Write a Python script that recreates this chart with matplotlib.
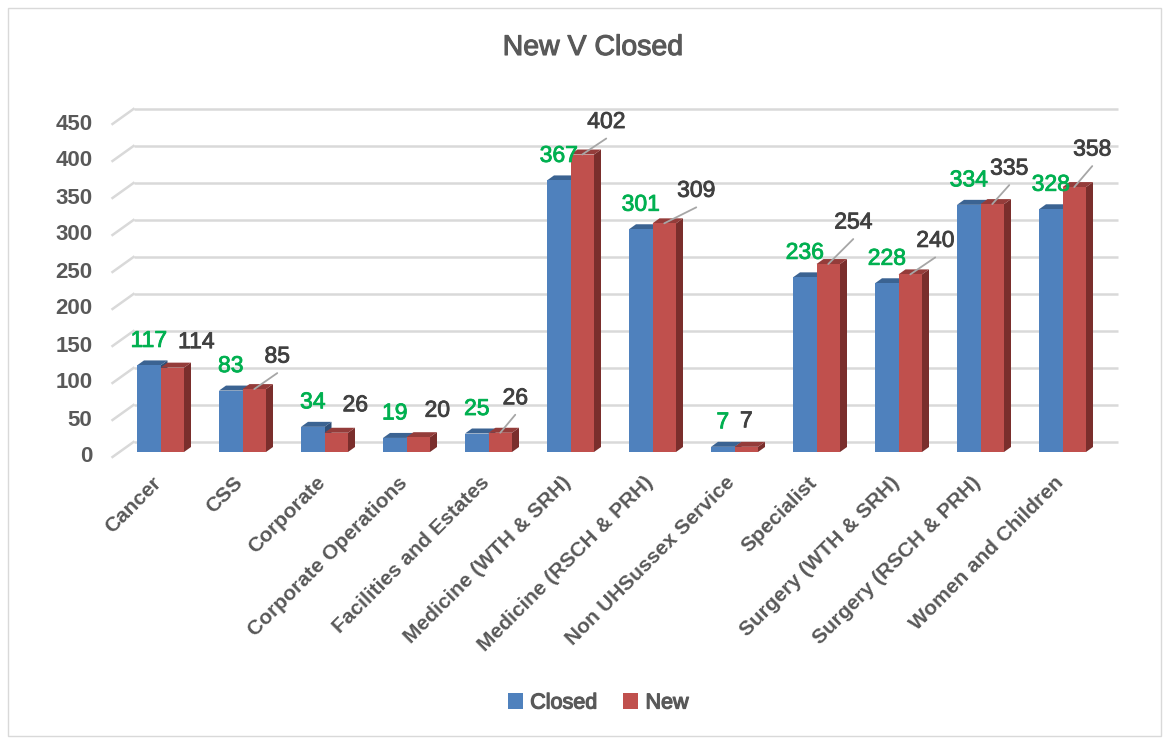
import matplotlib
matplotlib.use("Agg")
import matplotlib.pyplot as plt
import matplotlib.patheffects as pe
from matplotlib.patches import Polygon, Rectangle, Patch

#---------------
# DATA
#---------------
categories = ["Cancer", "CSS", "Corporate", "Corporate Operations",
              "Facilities and Estates", "Medicine (WTH & SRH)",
              "Medicine (RSCH & PRH)", "Non UHSussex Service", "Specialist",
              "Surgery (WTH & SRH)", "Surgery (RSCH & PRH)", "Women and Children"]
closed = [117, 83, 34, 19, 25, 367, 301, 7, 236, 228, 334, 328]
new = [114, 85, 26, 20, 26, 402, 309, 7, 254, 240, 335, 358]
yticks = [0, 50, 100, 150, 200, 250, 300, 350, 400, 450]

# where the "New" labels were dragged to (pixels right / up of the bar top)
new_lbl_dx = [24, 23, 19, 19, 15, 24, 32, 0, 25, 25, 17, 18]
new_lbl_dy = [26, 33, 28, 27, 35, 33, 33, 26, 42, 34, 36, 38]
new_leader = [False, True, False, False, True, True, True, False, True, True, True, True]

#---------------
# STYLE
#---------------
plt.rcParams['font.family'] = ['Liberation Sans', 'DejaVu Sans']
GREY_TXT = '#595959'
GRID = '#d9d9d9'
BLUE = ('#4f81bd', '#3b6392', '#2f4f77')   # front, top, side
RED = ('#c0504d', '#943c3a', '#7a2e2c')

W, H = 1169, 738
PX_X = 82.0    # pixels per category
PX_Y = 0.74    # pixels per unit of value
BAR_W = 23.5 / PX_X


def px2x(p):
    return p / PX_X


def px2y(p):
    return p / PX_Y


def heavy(col, lw=0.6):
    # thicken regular text a little (medium weight)
    return [pe.withStroke(linewidth=lw, foreground=col)]


def bar3d(ax, x0, w, h, cols):
    front, top, side = cols
    dx, dy = px2x(7), px2y(5)
    ax.add_patch(Polygon([(x0 + w, 0), (x0 + w + dx, dy), (x0 + w + dx, h + dy), (x0 + w, h)],
                         closed=True, fc=side, ec='none', zorder=3))
    ax.add_patch(Polygon([(x0, h), (x0 + w, h), (x0 + w + dx, h + dy), (x0 + dx, h + dy)],
                         closed=True, fc=top, ec='none', zorder=3))
    ax.add_patch(Rectangle((x0, 0), w, h, fc=front, ec='none', zorder=3))


fig = plt.figure(figsize=(W / 100, H / 100), dpi=100)
# x pixel = 160.5 + 82*x ; y pixel (from top) = 452 - 0.74*v
xl, xr = -1.0, 12.2
yb, yt = -60, 500
left_px = 160.5 + PX_X * xl
right_px = 160.5 + PX_X * xr
bot_px = 452 - PX_Y * yb
top_px = 452 - PX_Y * yt
ax = fig.add_axes([left_px / W, (H - bot_px) / H, (right_px - left_px) / W, (bot_px - top_px) / H])
ax.set_xlim(xl, xr)
ax.set_ylim(yb, yt)
ax.axis('off')

# back wall gridlines + side wall diagonals
n = len(categories)
bx, by = px2x(14), px2y(10)
fx, fy = px2x(7), px2y(5)
for v in yticks:
    ax.plot([-0.5 + bx, n - 0.5 + bx], [v + by, v + by], color=GRID, lw=1.8, zorder=1,
            solid_capstyle='butt')
    ax.plot([-0.5 - fx, -0.5 + bx], [v - fy, v + by], color=GRID, lw=1.8, zorder=1)
    ax.annotate(str(v), xy=(-0.5 - fx, v - fy), xytext=(-20, 0), textcoords='offset pixels',
                ha='right', va='center', fontsize=16, fontweight='bold', color=GREY_TXT,
                annotation_clip=False)

# bars
for i in range(n):
    bar3d(ax, i - BAR_W, BAR_W, closed[i], BLUE)
    bar3d(ax, i, BAR_W, new[i], RED)

# data labels
for i in range(n):
    ax.annotate(str(closed[i]), xy=(i - BAR_W / 2, closed[i]), xytext=(0, 25),
                textcoords='offset pixels', ha='center', va='center', fontsize=16.5,
                color='#00b050', zorder=5, annotation_clip=False,
                path_effects=heavy('#00b050'))
    rx = i + BAR_W / 2
    ax.annotate(str(new[i]), xy=(rx, new[i]), xytext=(new_lbl_dx[i], new_lbl_dy[i]),
                textcoords='offset pixels', ha='center', va='center', fontsize=16.5,
                color='#404040', zorder=5, annotation_clip=False,
                path_effects=heavy('#404040'))
    if new_leader[i]:
        ax.annotate('', xy=(rx, new[i]), xytext=(new_lbl_dx[i], new_lbl_dy[i] - 17),
                    textcoords='offset pixels',
                    arrowprops=dict(arrowstyle='-', color='#a6a6a6', lw=1.3,
                                    shrinkA=0, shrinkB=0), zorder=4, annotation_clip=False)

# category labels
for i, cat in enumerate(categories):
    ax.annotate(cat, xy=(i, 0), xytext=(-9, -21), textcoords='offset pixels',
                rotation=45, rotation_mode='anchor', ha='right', va='top',
                fontsize=15, fontweight='bold', color=GREY_TXT, annotation_clip=False)

# title
fig.text(593 / W, 1 - 48 / H, "New V Closed", ha='center', va='center', fontsize=20.5,
         color=GREY_TXT, path_effects=heavy(GREY_TXT, 0.8))

# legend
handles = [Patch(fc=BLUE[0], ec='none', label='Closed'), Patch(fc=RED[0], ec='none', label='New')]
leg = fig.legend(handles=handles, loc='center', bbox_to_anchor=(598 / W, 1 - 703 / H),
                 ncol=2, frameon=False, fontsize=15.5, handlelength=0.7, handleheight=0.7,
                 handletextpad=0.35, columnspacing=1.2)
for t in leg.get_texts():
    t.set_color(GREY_TXT)
    t.set_path_effects(heavy(GREY_TXT, 0.9))

# chart border
fig.patches.append(Rectangle((8 / W, 2 / H), 1153 / W, 728 / H, transform=fig.transFigure,
                             fill=False, ec='#d9d9d9', lw=1))

fig.savefig('out.png', dpi=100)
